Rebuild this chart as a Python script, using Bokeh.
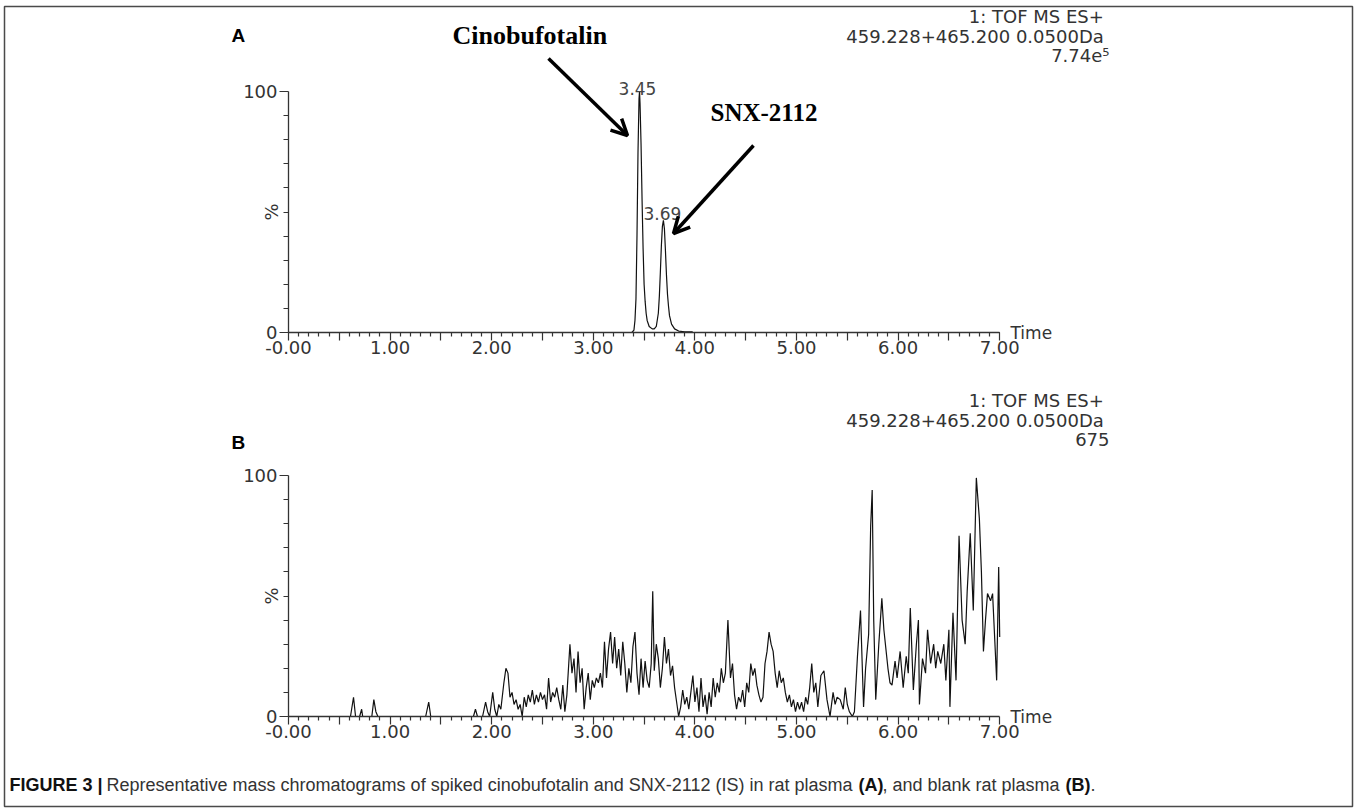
from bokeh.plotting import figure
from bokeh.models import Range1d, LinearAxis, FixedTicker, Label, Arrow, OpenHead
from bokeh.embed import file_html
from bokeh.resources import INLINE

# ---------------- data ----------------
# Panel A: spiked plasma chromatogram (time in min, relative intensity %)
a_time = [0.00, 3.38, 3.40, 3.41, 3.42, 3.43, 3.44, 3.45, 3.455, 3.46,
          3.47, 3.48, 3.49, 3.50, 3.51, 3.52, 3.53, 3.55, 3.58, 3.60,
          3.62, 3.64, 3.65, 3.66, 3.67, 3.68, 3.69, 3.70, 3.71, 3.72,
          3.73, 3.74, 3.75, 3.77, 3.80, 3.84, 3.90, 3.97, 3.98, 7.00]
a_int = [0, 0, 1, 5, 14, 40, 75, 97, 100, 95,
         78, 55, 35, 20, 13, 8, 5, 2.5, 1.5, 1.5,
         2.5, 8, 15, 25, 36, 44, 46.5, 43, 34, 24,
         16, 11, 7, 3.5, 1.5, 0.6, 0.3, 0.3, 0, 0]

# Panel B: blank plasma chromatogram
b_time = [0.00, 0.61, 0.64, 0.66, 0.70, 0.72, 0.73, 0.82, 0.84, 0.86, 0.88, 1.35, 1.38, 1.40,
          1.82, 1.84, 1.86, 1.91, 1.94, 1.96, 1.98, 2.01, 2.03, 2.05, 2.07, 2.09, 2.12, 2.14,
          2.16, 2.18, 2.20, 2.22, 2.24, 2.26, 2.28, 2.30, 2.32, 2.34, 2.36, 2.38, 2.40, 2.42,
          2.44, 2.46, 2.48, 2.50, 2.52, 2.54, 2.56, 2.58, 2.60, 2.62, 2.64, 2.66, 2.68, 2.70,
          2.72, 2.74, 2.77, 2.79, 2.81, 2.83, 2.85, 2.87, 2.89, 2.91, 2.93, 2.95, 2.97, 2.99,
          3.01, 3.03, 3.05, 3.07, 3.09, 3.11, 3.13, 3.15, 3.17, 3.19, 3.21, 3.23, 3.25, 3.27,
          3.29, 3.31, 3.33, 3.35, 3.37, 3.39, 3.41, 3.43, 3.45, 3.47, 3.49, 3.51, 3.53, 3.55,
          3.57, 3.585, 3.60, 3.62, 3.64, 3.66, 3.68, 3.70, 3.72, 3.74, 3.76, 3.78, 3.80, 3.82,
          3.84, 3.86, 3.88, 3.90, 3.92, 3.94, 3.96, 3.98, 4.00, 4.02, 4.04, 4.06, 4.08, 4.10,
          4.12, 4.14, 4.16, 4.18, 4.20, 4.22, 4.24, 4.26, 4.28, 4.30, 4.325, 4.35, 4.37, 4.39,
          4.41, 4.43, 4.45, 4.47, 4.49, 4.51, 4.53, 4.55, 4.57, 4.59, 4.61, 4.63, 4.65, 4.67,
          4.69, 4.71, 4.73, 4.75, 4.77, 4.79, 4.81, 4.83, 4.85, 4.87, 4.89, 4.91, 4.93, 4.95,
          4.97, 4.99, 5.01, 5.03, 5.05, 5.07, 5.09, 5.11, 5.13, 5.15, 5.17, 5.19, 5.21, 5.24,
          5.27, 5.30, 5.33, 5.36, 5.38, 5.40, 5.43, 5.46, 5.48, 5.50, 5.52, 5.55, 5.57, 5.60,
          5.63, 5.66, 5.68, 5.71, 5.73, 5.745, 5.76, 5.78, 5.81, 5.84, 5.86, 5.88, 5.90, 5.92,
          5.94, 5.97, 5.99, 6.02, 6.05, 6.08, 6.10, 6.12, 6.15, 6.18, 6.20, 6.21, 6.24, 6.27,
          6.29, 6.32, 6.35, 6.37, 6.39, 6.42, 6.45, 6.47, 6.50, 6.51, 6.54, 6.57, 6.60, 6.63,
          6.66, 6.68, 6.71, 6.74, 6.77, 6.80, 6.82, 6.84, 6.86, 6.88, 6.91, 6.93, 6.97, 6.99,
          7.00]
b_int = [0, 0, 8, 0, 0, 3, 0, 0, 7, 2, 0, 0, 6, 0,
         0, 3, 0, 0, 6, 2, 0, 10, 3, 0, 5, 3, 14, 20,
         18, 8, 10, 5, 7, 3, 5, 0, 8, 4, 9, 6, 11, 5,
         9, 6, 10, 7, 9, 3, 16, 6, 10, 8, 12, 7, 3, 13,
         2, 9, 30, 18, 24, 10, 27, 14, 20, 3, 12, 18, 7, 15,
         12, 16, 14, 18, 12, 31, 16, 28, 35, 22, 33, 20, 28, 17,
         31, 22, 10, 20, 14, 29, 35, 18, 9, 24, 12, 23, 15, 12,
         22, 52, 19, 30, 24, 12, 20, 33, 22, 28, 17, 21, 12, 6,
         0, 4, 11, 5, 8, 3, 10, 17, 6, 12, 2, 16, 4, 9,
         1, 10, 4, 16, 8, 14, 10, 20, 14, 18, 40, 16, 22, 9,
         3, 8, 6, 11, 4, 14, 10, 22, 17, 20, 13, 9, 6, 8,
         22, 27, 35, 30, 27, 18, 12, 19, 14, 16, 10, 6, 9, 4,
         7, 2, 6, 3, 6, 2, 8, 5, 12, 22, 10, 14, 4, 17,
         19, 7, 0, 10, 5, 8, 7, 3, 12, 5, 2, 0, 2, 25,
         44, 4, 20, 34, 79, 94, 40, 7, 30, 49, 36, 28, 20, 14,
         13, 23, 16, 27, 12, 25, 18, 45, 11, 30, 40, 5, 24, 18,
         36, 22, 30, 20, 27, 22, 30, 15, 36, 4, 43, 15, 75, 40,
         30, 52, 76, 44, 99, 82, 60, 27, 40, 51, 48, 51, 15, 62,
         33]

x_tick_values = [0, 1, 2, 3, 4, 5, 6, 7]
x_tick_labels = ["-0.00", "1.00", "2.00", "3.00", "4.00", "5.00", "6.00", "7.00"]
y_tick_values = [0, 100]
y_tick_labels = ["0", "100"]

peak_times_a = [3.45, 3.69]
peak_labels_a = ["3.45", "3.69"]

header_a = ["1: TOF  MS ES+", "459.228+465.200  0.0500Da", "7.74e\u2075"]
header_b = ["1: TOF  MS ES+", "459.228+465.200  0.0500Da", "675"]
compound_names = ["Cinobufotalin", "SNX-2112"]
panel_letters = ["A", "B"]
caption_parts = [("FIGURE 3 |", "bold"),
                 ("Representative mass chromatograms of spiked cinobufotalin and SNX-2112 (IS) in rat plasma", "normal"),
                 ("(A)", "bold"),
                 (", and blank rat plasma", "normal"),
                 ("(B)", "bold"),
                 (".", "normal")]

# ---------------- layout (pixels of the picture) ----------------
BL, BT, BR, BB = 4, 6, 1352, 806   # border box
X0, KX = 288, 101.6                # x=0 at pixel 288, px per minute
YA0, YB0, KY = 332, 716, 2.41      # baselines of panels A and B, px per %


def xd(px):
    return (px - X0) / KX


def ya(py):
    return (YA0 - py) / KY


def yb(py):
    return (YB0 - py) / KY


p = figure(width=BR + 4, height=BB + 5, output_backend="svg", toolbar_location=None,
           x_range=Range1d(xd(BL), xd(BR)),
           y_range=Range1d(ya(BB), ya(BT)),
           x_axis_location=None, y_axis_location=None,
           min_border_left=BL, min_border_top=BT, min_border_right=4, min_border_bottom=5)
p.extra_y_ranges = {"b": Range1d(yb(BB), yb(BT))}
p.grid.visible = False
p.outline_line_color = "#4a4a4a"
p.outline_line_width = 1.5
p.background_fill_color = "white"
p.border_fill_color = "white"

SANS = "DejaVu Sans"
AX = "#333333"

x_major = [i * 0.5 for i in range(15)]
x_minor = [i / 10 for i in range(71) if i % 5 != 0]
x_over = {t: "" for t in x_major}
for v, lab_ in zip(x_tick_values, x_tick_labels):
    x_over[v] = lab_
y_minor = [10, 20, 30, 40, 50, 60, 70, 80, 90]
y_over = {v: lab_ for v, lab_ in zip(y_tick_values, y_tick_labels)}


def style(ax):
    ax.axis_line_color = AX
    ax.axis_line_width = 1.3
    ax.major_tick_line_color = AX
    ax.minor_tick_line_color = AX
    ax.major_tick_line_width = 1.2
    ax.minor_tick_line_width = 1.2
    ax.major_tick_in = 0
    ax.minor_tick_in = 0
    ax.major_label_text_font = SANS
    ax.major_label_text_font_size = "18px"
    ax.major_label_text_color = AX


for rname in (None, "b"):
    kw = {} if rname is None else {"y_range_name": rname}
    xa = LinearAxis(fixed_location=0, bounds=(0, 7),
                    ticker=FixedTicker(ticks=x_major, minor_ticks=x_minor), **kw)
    style(xa)
    xa.major_label_overrides = x_over
    xa.major_tick_out = 8
    xa.minor_tick_out = 4
    xa.major_label_standoff = 0
    p.add_layout(xa, "below")

    yax = LinearAxis(fixed_location=0, bounds=(0, 100),
                     ticker=FixedTicker(ticks=y_tick_values, minor_ticks=y_minor), **kw)
    style(yax)
    yax.major_label_overrides = y_over
    yax.major_tick_out = 9
    yax.minor_tick_out = 5
    yax.major_label_standoff = 2
    p.add_layout(yax, "left")

# traces
p.line(a_time, a_int, line_color="#111111", line_width=1.2)
p.line(b_time, b_int, line_color="#111111", line_width=1.2, y_range_name="b")


def lab(text, x, y, rname=None, size="18px", font=SANS, style_="normal",
        align="left", baseline="middle", color=AX, angle=0):
    kw = {} if rname is None else {"y_range_name": rname}
    p.add_layout(Label(x=x, y=y, text=text, text_font=font, text_font_size=size,
                       text_font_style=style_, text_align=align, text_baseline=baseline,
                       text_color=color, angle=angle, **kw))


# header blocks
for i, line in enumerate(header_a):
    lab(line, xd(1109), ya(16 + 19.5 * i), align="right")
for i, line in enumerate(header_b):
    lab(line, xd(1109), yb(400 + 19.5 * i), rname="b", align="right")

# "Time" labels and "%" labels
lab("Time", xd(1010), 0, size="17px")
lab("Time", xd(1010), 0, rname="b", size="17px")
lab("%", xd(271), 50, size="18px", align="center", angle=1.5708)
lab("%", xd(271), 50, rname="b", size="18px", align="center", angle=1.5708)

# panel letters
lab(panel_letters[0], xd(231), ya(35), size="19px", font="Liberation Sans", style_="bold", color="black")
lab(panel_letters[1], xd(231), yb(442), rname="b", size="19px", font="Liberation Sans", style_="bold", color="black")

# peak labels
lab(peak_labels_a[0], peak_times_a[0] - 0.015, ya(88), size="17px", align="center",
    baseline="alphabetic", color="#444444")
lab(peak_labels_a[1], peak_times_a[1] - 0.01, ya(213), size="17px", align="center",
    baseline="alphabetic", color="#444444")

# compound names + arrows
lab(compound_names[0], xd(452), ya(35), size="26px", font="Liberation Serif",
    style_="bold", color="black")
lab(compound_names[1], xd(710), ya(112), size="25px", font="Liberation Serif",
    style_="bold", color="black")
p.add_layout(Arrow(end=OpenHead(size=16, line_width=3.5, line_color="black"),
                   x_start=xd(548), y_start=ya(58), x_end=xd(627), y_end=ya(135),
                   line_width=3.5, line_color="black"))
p.add_layout(Arrow(end=OpenHead(size=16, line_width=3.5, line_color="black"),
                   x_start=xd(753), y_start=ya(145), x_end=xd(673), y_end=ya(233),
                   line_width=3.5, line_color="black"))

# caption
cap_x = [9, 106, 858, 882, 1065, 1090]
for (text, st), cx in zip(caption_parts, cap_x):
    lab(text, xd(cx), ya(784), size="18px", font="Liberation Sans", style_=st,
        color="#111111" if st == "bold" else "#333333")

open("out.html", "w").write(file_html(p, INLINE))
